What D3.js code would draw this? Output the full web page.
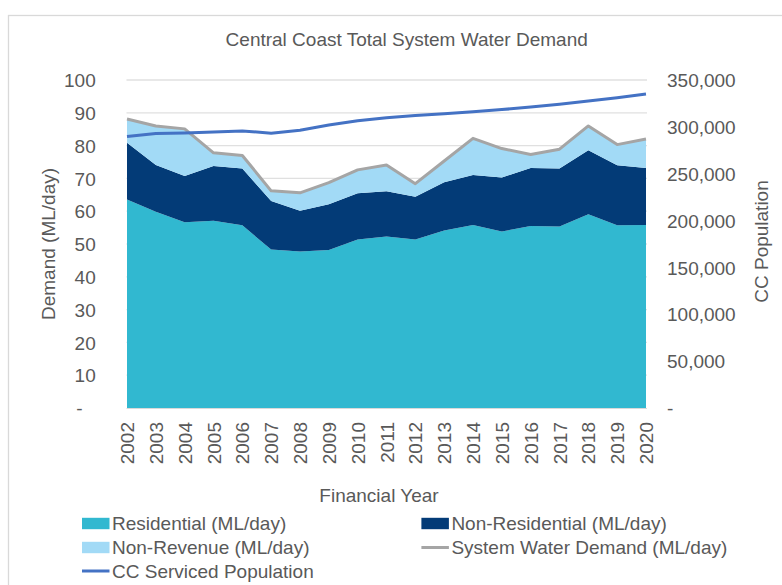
<!DOCTYPE html>
<html>
<head>
<meta charset="utf-8">
<script src="https://cdn.jsdelivr.net/npm/d3@7"></script>
<style>
  html, body { margin: 0; padding: 0; background: #fff; }
  svg { display: block; font-family: "Liberation Sans", Arial, sans-serif; }
  text { fill: #595959; }
</style>
</head>
<body>
<svg id="chart" width="782" height="585"></svg>
<script>
// ---- Data ----
const years = ["2002","2003","2004","2005","2006","2007","2008","2009","2010","2011",
               "2012","2013","2014","2015","2016","2017","2018","2019","2020"];
const residential    = [63.6,59.8,56.6,57.1,55.7,48.3,47.7,48.2,51.4,52.3,51.4,54.1,55.8,53.8,55.5,55.3,59.1,55.7,55.8];
const nonResidential = [17.3,14.3,14.1,16.7,17.3,14.8,12.4,13.9,14.1,13.8,13.0,14.7,15.2,16.5,17.7,17.7,19.5,18.3,17.4];
const nonRevenue     = [7.2,11.9,14.4,4.0,4.0,3.1,5.5,6.6,7.1,8.0,4.0,6.5,11.2,8.8,4.1,5.9,7.4,6.3,8.8];
const population     = [289600,292800,293500,294600,295700,293200,296400,302000,306600,309800,
                        312000,314100,316200,318400,321200,324100,327600,331100,335100];
const leftTicks  = [0,10,20,30,40,50,60,70,80,90,100];
const rightTicks = [0,50000,100000,150000,200000,250000,300000,350000];
const legendLabels = ["Residential (ML/day)","Non-Residential (ML/day)","Non-Revenue (ML/day)",
                      "System Water Demand (ML/day)","CC Serviced Population"];
const titleText = "Central Coast Total System Water Demand";

// ---- Styling ----
const colors = { res: "#31B8D0", nonRes: "#033B77", nonRev: "#A2DAF6", sys: "#A5A5A5", pop: "#4472C4" };
const FS = 19;

const svg = d3.select("#chart");

// chart border
svg.append("rect").attr("x", 8.5).attr("y", 15.5).attr("width", 800).attr("height", 600)
  .attr("fill", "#fff").attr("stroke", "#D9D9D9").attr("stroke-width", 1.3);

const x = d3.scalePoint().domain(years).range([127, 646]);
const yL = d3.scaleLinear().domain([0, 100]).range([408, 80]);
const yR = d3.scaleLinear().domain([0, 350000]).range([408, 80]);

// gridlines
svg.append("g").selectAll("line").data(leftTicks.filter(d => d > 0)).join("line")
  .attr("x1", 126.5).attr("x2", 647)
  .attr("y1", d => yL(d)).attr("y2", d => yL(d))
  .attr("stroke", "#E0E0E0").attr("stroke-width", 1.3);

// stacked areas
const rows = years.map((yr, i) => ({ year: yr, res: residential[i], nonRes: nonResidential[i], nonRev: nonRevenue[i] }));
const stack = d3.stack().keys(["res", "nonRes", "nonRev"]);
const series = stack(rows);
const area = d3.area().x(d => x(d.data.year)).y0(d => yL(d[0])).y1(d => yL(d[1]));
svg.append("g").selectAll("path").data(series).join("path")
  .attr("d", area).attr("fill", d => colors[d.key]);

// baseline
svg.append("line").attr("x1", 126.5).attr("x2", 647).attr("y1", yL(0) + 0.5).attr("y2", yL(0) + 0.5)
  .attr("stroke", "#D9D9D9").attr("stroke-width", 1);

// system demand line (top of stack)
const topSeries = series[series.length - 1];
svg.append("path").datum(topSeries)
  .attr("d", d3.line().x(d => x(d.data.year)).y(d => yL(d[1])))
  .attr("fill", "none").attr("stroke", colors.sys).attr("stroke-width", 3).attr("stroke-linejoin", "round");

// population line
svg.append("path").datum(population)
  .attr("d", d3.line().x((d, i) => x(years[i])).y(d => yR(d)))
  .attr("fill", "none").attr("stroke", colors.pop).attr("stroke-width", 3).attr("stroke-linejoin", "round");

// left axis
const gL = svg.append("g").attr("transform", "translate(95.7,0)")
  .call(d3.axisLeft(yL).tickValues(leftTicks).tickSize(0).tickPadding(0)
    .tickFormat(d => d === 0 ? "-" : d));
gL.select(".domain").remove();
gL.selectAll("text").attr("font-size", FS).attr("font-family", null).style("fill", "#595959")
  .attr("dy", "0.35em")
  .filter(d => d === 0).attr("text-anchor", "middle").attr("x", -16.4);

// right axis
const gR = svg.append("g").attr("transform", "translate(667,0)")
  .call(d3.axisRight(yR).tickValues(rightTicks).tickSize(0).tickPadding(0)
    .tickFormat(d => d === 0 ? "-" : d3.format(",")(d)));
gR.select(".domain").remove();
gR.selectAll("text").attr("font-size", FS).attr("font-family", null).style("fill", "#595959").attr("dy", "0.35em");

// bottom axis (rotated year labels)
const gB = svg.append("g").attr("transform", "translate(0,422)")
  .call(d3.axisBottom(x).tickSize(0).tickPadding(0));
gB.select(".domain").remove();
gB.selectAll("text").attr("font-size", FS).attr("font-family", null).style("fill", "#595959")
  .attr("transform", "rotate(-90)").attr("x", 0).attr("y", 0).attr("dy", "0.35em")
  .attr("text-anchor", "end");

// title
svg.append("text").attr("x", 406.7).attr("y", 46).attr("text-anchor", "middle")
  .attr("font-size", FS).text(titleText);

// axis titles
svg.append("text").attr("transform", "translate(54.5,244) rotate(-90)").attr("text-anchor", "middle")
  .attr("font-size", FS).text("Demand (ML/day)");
svg.append("text").attr("transform", "translate(768,241.5) rotate(-90)").attr("text-anchor", "middle")
  .attr("font-size", FS).text("CC Population");
svg.append("text").attr("x", 379).attr("y", 501.5).attr("text-anchor", "middle")
  .attr("font-size", FS).text("Financial Year");

// legend
const legendItems = [
  { label: legendLabels[0], type: "box",  color: colors.res,    col: 0, row: 0 },
  { label: legendLabels[1], type: "box",  color: colors.nonRes, col: 1, row: 0 },
  { label: legendLabels[2], type: "box",  color: colors.nonRev, col: 0, row: 1 },
  { label: legendLabels[3], type: "line", color: colors.sys,    col: 1, row: 1 },
  { label: legendLabels[4], type: "line", color: colors.pop,    col: 0, row: 2 }
];
const colX = [82, 421.4];
const rowY = [523.5, 547.5, 571];
const lg = svg.append("g").selectAll("g").data(legendItems).join("g")
  .attr("transform", d => `translate(${colX[d.col]},${rowY[d.row]})`);
lg.filter(d => d.type === "box").append("rect")
  .attr("x", 0).attr("y", -5.7).attr("width", 27.5).attr("height", 11.4).attr("fill", d => d.color);
lg.filter(d => d.type === "line").append("line")
  .attr("x1", 0).attr("x2", 27.5).attr("y1", 0).attr("y2", 0)
  .attr("stroke", d => d.color).attr("stroke-width", 3);
lg.append("text").attr("x", 30).attr("y", 0).attr("dy", "0.35em")
  .attr("font-size", FS).text(d => d.label);
</script>
</body>
</html>
